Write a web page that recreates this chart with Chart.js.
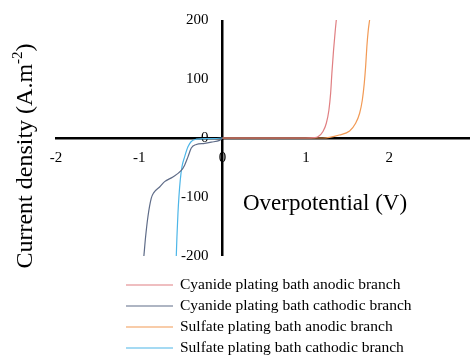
<!DOCTYPE html>
<html>
<head>
<meta charset="utf-8">
<script src="https://cdn.jsdelivr.net/npm/chart.js@4.4.1/dist/chart.umd.min.js"></script>
<style>
  html, body { margin: 0; padding: 0; background: #fff; }
  #wrap { width: 470px; height: 355px; }
</style>
</head>
<body>
<div id="wrap"><canvas id="chart" width="470" height="355"></canvas></div>
<script>
// Polarization curves: overpotential (V) vs current density (A/m2)
const seriesNames = [
  'Cyanide plating bath anodic branch',
  'Cyanide plating bath cathodic branch',
  'Sulfate plating bath anodic branch',
  'Sulfate plating bath cathodic branch'
];
const seriesColors = ['#e07f82', '#5f6c88', '#f29a55', '#4db6e8'];

const cyanideAnodicV = [0, 0.5, 1.0, 1.10, 1.145, 1.205, 1.245, 1.276, 1.297, 1.312, 1.332, 1.353, 1.365];
const cyanideAnodicJ = [0, 0, 0, 0.5, 2, 11, 25, 47, 76, 110, 149, 183, 200];

const cyanideCathodicV = [0, -0.036, -0.136, -0.216, -0.316, -0.376, -0.416, -0.456, -0.496, -0.597, -0.696, -0.756, -0.828, -0.856, -0.896, -0.924, -0.945];
const cyanideCathodicJ = [0, -4, -7, -9, -11, -17, -32, -46, -55, -66, -74, -83, -93, -102, -133, -167, -200];

const sulfateAnodicV = [0, 0.6, 1.2, 1.284, 1.40, 1.525, 1.597, 1.645, 1.677, 1.701, 1.717, 1.732, 1.749, 1.765];
const sulfateAnodicJ = [0, 0, 0, 1, 5, 12, 25, 42, 64, 93, 121, 155, 183, 200];

const sulfateCathodicV = [0, -0.1, -0.216, -0.316, -0.376, -0.416, -0.456, -0.488, -0.508, -0.524, -0.536, -0.548, -0.556];
const sulfateCathodicJ = [0, -1, -1, -2, -6, -15, -32, -49, -71, -99, -128, -167, -200];

const xTicks = [-2, -1, 0, 1, 2];
const yTicks = [-200, -100, 0, 100, 200];

const xTitle = 'Overpotential (V)';
const yTitleMain = 'Current density (A.m';
const yTitleSup = '-2';
const yTitleEnd = ')';

const SERIF = '"Liberation Serif", "Times New Roman", serif';

function toPoints(vs, js) {
  return vs.map((v, i) => ({ x: v, y: js[i] }));
}

const seriesData = [
  toPoints(cyanideAnodicV, cyanideAnodicJ),
  toPoints(cyanideCathodicV, cyanideCathodicJ),
  toPoints(sulfateAnodicV, sulfateAnodicJ),
  toPoints(sulfateCathodicV, sulfateCathodicJ)
];

const datasets = seriesNames.map((name, i) => ({
  label: name,
  data: seriesData[i],
  borderColor: seriesColors[i],
  backgroundColor: seriesColors[i],
  borderWidth: 1.2,
  pointRadius: 0,
  fill: false,
  showLine: true,
  cubicInterpolationMode: 'monotone'
}));

// Axis titles and the stacked legend under the plot
const captionPlugin = {
  id: 'captions',
  afterDraw(chart) {
    const ctx = chart.ctx;
    ctx.save();
    ctx.fillStyle = '#000';
    ctx.textBaseline = 'middle';

    // x title
    ctx.font = '23px ' + SERIF;
    ctx.textAlign = 'center';
    ctx.fillText(xTitle, 325, 204);

    // y title (rotated, with superscript)
    ctx.save();
    ctx.translate(26, 156);
    ctx.rotate(-Math.PI / 2);
    ctx.font = '24px ' + SERIF;
    const w1 = ctx.measureText(yTitleMain).width;
    ctx.font = '15px ' + SERIF;
    const w2 = ctx.measureText(yTitleSup).width;
    ctx.font = '24px ' + SERIF;
    const w3 = ctx.measureText(yTitleEnd).width;
    let x0 = -(w1 + w2 + w3) / 2;
    ctx.textAlign = 'left';
    ctx.fillText(yTitleMain, x0, 0);
    ctx.font = '15px ' + SERIF;
    ctx.fillText(yTitleSup, x0 + w1, -8);
    ctx.font = '24px ' + SERIF;
    ctx.fillText(yTitleEnd, x0 + w1 + w2, 0);
    ctx.restore();

    // legend
    ctx.font = '15.5px ' + SERIF;
    ctx.textAlign = 'left';
    chart.data.datasets.forEach((ds, i) => {
      const y = 285 + i * 21;
      ctx.strokeStyle = ds.borderColor;
      ctx.lineWidth = 1.2;
      ctx.beginPath();
      ctx.moveTo(126, y);
      ctx.lineTo(173, y);
      ctx.stroke();
      ctx.fillText(ds.label, 180, y);
    });
    ctx.restore();
  }
};

new Chart(document.getElementById('chart'), {
  type: 'scatter',
  data: { datasets },
  options: {
    responsive: false,
    devicePixelRatio: 1,
    animation: false,
    layout: { padding: { left: 56, right: 0, top: 20, bottom: 99 } },
    plugins: {
      legend: { display: false },
      tooltip: { enabled: false }
    },
    scales: {
      x: {
        type: 'linear',
        min: -2,
        max: 2.97,
        position: { y: 0 },
        afterBuildTicks: s => { s.ticks = xTicks.map(v => ({ value: v })); },
        grid: {
          display: true,
          drawTicks: false,
          lineWidth: 2.5,
          color: c => (c.tick && c.tick.value === 0) ? '#000' : 'rgba(0,0,0,0)'
        },
        border: { display: true, color: '#000', width: 2.5 },
        ticks: {
          color: '#000',
          font: { family: SERIF, size: 15 },
          padding: 11,
          maxRotation: 0,
          callback: v => String(v)
        }
      },
      y: {
        type: 'linear',
        min: -200,
        max: 200,
        position: { x: -0.168 },
        afterBuildTicks: s => { s.ticks = yTicks.map(v => ({ value: v })); },
        grid: { display: false, drawTicks: false },
        border: { display: false },
        ticks: {
          color: '#000',
          font: { family: SERIF, size: 15 },
          callback: v => String(v)
        }
      }
    }
  },
  plugins: [captionPlugin]
});
</script>
</body>
</html>
